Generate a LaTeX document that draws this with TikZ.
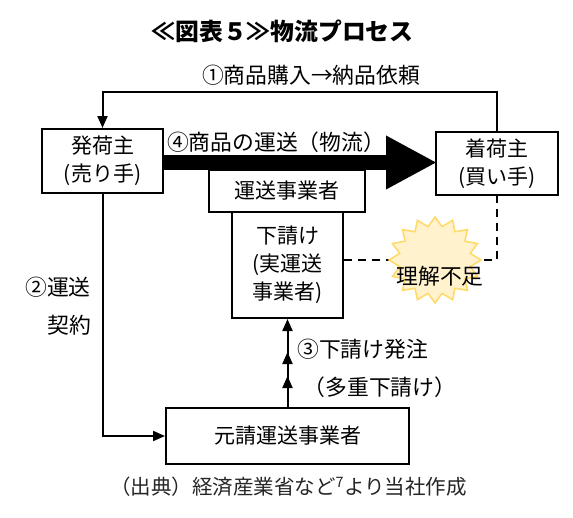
\documentclass[tikz,border=0pt]{standalone}
\usepackage{fontspec}
\setmainfont{Noto Sans CJK JP}
\usetikzlibrary{arrows.meta,decorations.markings}
\definecolor{burstfill}{HTML}{FFF2CC}
\definecolor{burstline}{HTML}{FFD966}
\begin{document}
\begin{tikzpicture}[x=1pt,y=-1pt,
  box/.style={draw, line width=2pt, fill=white, inner sep=0pt, align=center, font=\fontsize{21}{28}\selectfont},
  conn/.style={line width=2pt},
  tipend/.style={-{Triangle[width=10pt,length=12pt]}},
  lbl/.style={inner sep=0pt, font=\fontsize{21.8}{28}\selectfont}]
\useasboundingbox (0,0) rectangle (573,517);
\fill[white] (0,0) rectangle (573,517);

% title
\node[inner sep=0pt, font=\bfseries\fontsize{23.8}{28}\selectfont] (title) at (282.5,31) {≪図表５≫物流プロセス};

% end boxes
\node[box, minimum width=121pt, minimum height=64pt] (seller) at (102.5,161) {発荷主\\(売り手)};
\node[box, minimum width=122pt, minimum height=63pt] (buyer) at (497,163.5) {着荷主\\(買い手)};

% thick arrow (physical flow)
\coordinate (bartip) at (437,162.5);
\draw[line width=15pt, -{Triangle[width=50pt,length=51pt]}] (seller.east |- bartip) -- (bartip);

% middle boxes
\node[box, minimum width=111pt, minimum height=106pt] (sub) at (287.5,265) {下請け\\(実運送\\事業者)};
\node[box, minimum width=156pt, minimum height=42pt] (carrier) at (287,191) {運送事業者};
\node[box, minimum width=243pt, minimum height=56pt] (main) at (287.5,436) {元請運送事業者};

% top connector
\coordinate (top) at (0,92);
\draw[conn, tipend] (buyer.north) -- (buyer.north |- top) -- (seller.north |- top) -- (seller.north);

% left connector
\draw[conn, tipend] (seller.south) -- (seller.south |- main.west) -- (main.west);

% subcontract arrow with three heads
\draw[conn, tipend, postaction={decorate}, decoration={markings,
   mark=at position 31pt with {\arrow{Triangle[width=10pt,length=12pt]}},
   mark=at position 55pt with {\arrow{Triangle[width=10pt,length=12pt]}}}]
   (main.north) -- (sub.south);

% dashed line
\coordinate (dc) at (497,260);
\draw[conn, dash pattern=on 8pt off 6pt] (sub.east |- dc) -- (dc) -- (buyer.south);

% starburst
\draw[draw=burstline, fill=burstfill, line width=1.5pt]
  plot[samples=33, domain=0:32, variable=\k]
  ({435 + (mod(\k,2)==0 ? 46 : 36)*cos(90+\k*11.25)}, {260 - (mod(\k,2)==0 ? 43 : 34)*sin(90+\k*11.25)}) -- cycle;

% labels
\node[lbl] (l1) at (311,75) {①商品購入→納品依頼};
\node[lbl] (l4) at (276,142) {④商品の運送（物流）};
\node[lbl, anchor=east] (l2a) at (91,287) {②運送};
\node[lbl, anchor=east] (l2b) at (91,325) {契約};
\node[lbl, anchor=west] (l3a) at (297,349) {③下請け発注};
\node[lbl] (l3b) at (380,387) {（多重下請け）};
\node[lbl] (miss) at (440,276) {理解不足};
\node[inner sep=0pt, font=\fontsize{20.5}{24}\selectfont, text=black!85] (cap) at (288.5,487) {（出典）経済産業省など\textsuperscript{7}より当社作成};
\end{tikzpicture}
\end{document}
